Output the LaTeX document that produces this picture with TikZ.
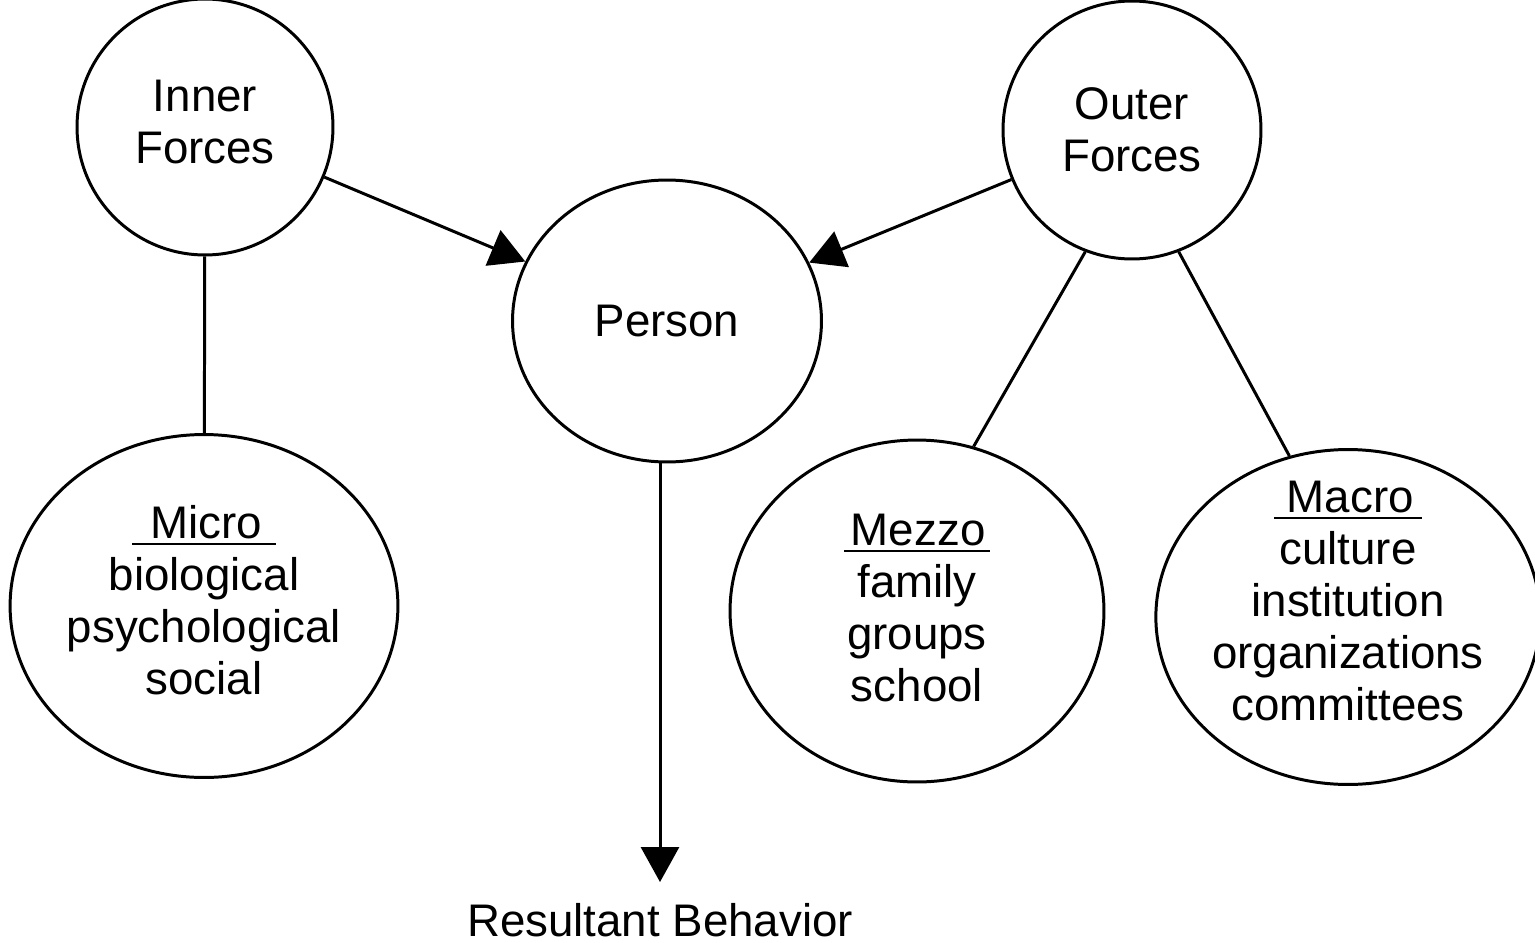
\documentclass[tikz,border=0pt]{standalone}
\usepackage{fontspec}
\setmainfont{Liberation Sans}
\usetikzlibrary{shapes.geometric,arrows.meta}
\tikzset{
  force/.style={
      draw,
      shape=circle,
      line width=1.7pt,
      inner sep=0pt,
      align=center,
      font=\fontsize{26}{29.6}\selectfont
    },
  level/.style={
      draw,
      shape=ellipse,
      line width=1.7pt,
      inner sep=0pt,
      align=center,
      font=\fontsize{26}{29.6}\selectfont
    },
  link/.style={line width=1.7pt},
  push/.style={link,-{Triangle[length=0.7cm,width=0.76cm]}}
}
\newcommand{\padline}[3]{\leavevmode\vtop{\hbox{\hspace{#1}#2\hspace{#3}}\kern2pt\hrule height 1.6pt}}

\begin{document}
\begin{tikzpicture}[x=0.02cm,y=-0.02cm]
\useasboundingbox (0,0) rectangle (1535,943);
% the shapes
\node[force,minimum size=5.12cm,text depth=0.2cm] at (205,127) (inner) {Inner\\Forces};
\node[force,minimum size=5.16cm] at (1132,130) (outer) {Outer\\Forces};
\node[level,minimum width=6.18cm,minimum height=5.64cm] at (667,321) (person) {Person};
\node[level,minimum width=7.52cm,minimum height=6.86cm,text depth=0.24cm] at (204,606) (micro)
  {\padline{0.4em}{Micro}{0.3em}\\biological\\psychological\\social};
\node[level,minimum width=7.48cm,minimum height=6.84cm,text depth=0.12cm] at (917,611) (mezzo)
  {\padline{0.15em}{Mezzo}{0.1em}\\family\\groups\\school};
\node[level,minimum width=7.5cm,minimum height=6.7cm,text depth=0.64cm,inner ysep=-0.5cm] at (1348,617) (macro)
  {\padline{0.28em}{Macro}{0.18em}\\culture\\institution\\organizations\\committees};
\node[font=\fontsize{26}{29.6}\selectfont] at (660,920) (result) {Resultant Behavior};

%the arrows
\draw[push] (inner) -- (person);
\draw[push] (outer) -- (person);
\draw[push,shorten >=0.3cm] (person.south -| result.north) -- (result.north);
\draw[link] (inner) -- (micro);
\draw[link] (outer.249) -- (mezzo.71);
\draw[link] (outer.291) -- (macro.110);
\end{tikzpicture}
\end{document}
